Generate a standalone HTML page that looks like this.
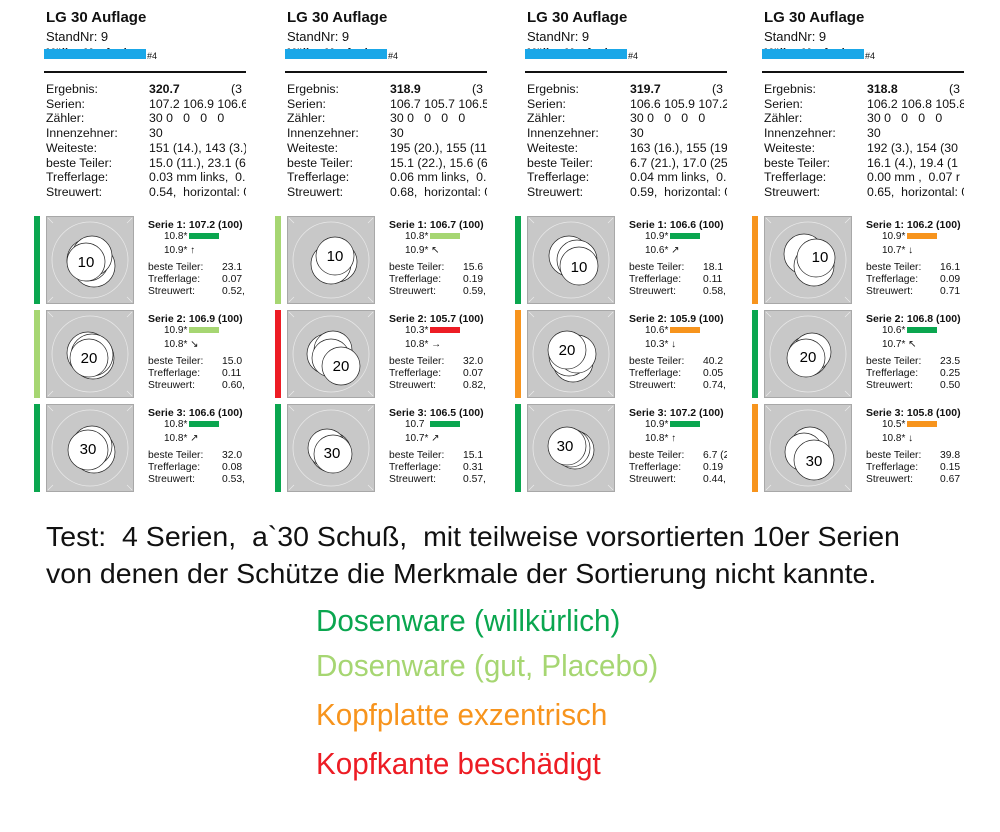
<!DOCTYPE html>
<html><head><meta charset="utf-8">
<style>
body{margin:0;width:1000px;height:832px;background:#fff;position:relative;overflow:hidden;font-family:"Liberation Sans",sans-serif;color:#111}
.p{position:absolute;top:0;width:214px;height:500px;overflow:hidden}
.a{position:absolute;white-space:nowrap}
.t{font-weight:bold;font-size:15px;left:14px;top:9px}
.s{font-size:13px;left:14px;top:29px}
.nm{left:12px;top:49px;width:102px;height:10px;background:#1aa7e8}
.nm2{left:14px;top:47px;font-size:11px;font-weight:bold;color:#222}
.h4{left:115px;top:51px;font-size:9px}
.hr{left:12px;top:71px;width:210px;height:2px;background:#111}
.st{left:14px;top:82px;font-size:12.3px;line-height:14.7px}
.sv{left:117px;top:82px;font-size:12.3px;line-height:14.7px}
.bar{left:2px;width:6px;height:88px}
.tg{left:14px;width:88px;height:88px}
.sh{left:116px;font-weight:bold;font-size:10.5px}
.sl{left:132px;font-size:10px}
.cb{left:157px;width:30px;height:6px}
.ss{left:116px;font-size:10.3px;line-height:11.8px}
.sx{left:190px;font-size:10.3px;line-height:11.8px}
.big{position:absolute;left:46px;font-size:28px;white-space:nowrap;transform:scaleX(1.018);transform-origin:left top;color:#111}
.lg{position:absolute;left:316px;font-size:31px;white-space:nowrap;transform:scaleX(0.955);transform-origin:left top}
</style></head><body>

<svg width="0" height="0" style="position:absolute"><defs>
<g id="tgt"><rect x="0.5" y="0.5" width="87" height="87" fill="#c8c8c8" stroke="#a8a8a8"/><circle cx="44" cy="44" r="38" fill="none" stroke="#e8e8e8" stroke-width="0.8"/><path d="M2 2l5 5M86 2l-5 5M2 86l5-5M86 86l-5-5" stroke="#eee" stroke-width="0.6"/></g>
</defs></svg>

<!-- Panel 1 -->
<div class="p" style="left:32px">
<div class="a t">LG 30 Auflage</div><div class="a s">StandNr: 9</div>
<div class="a nm2">Müller, Manfred</div><div class="a nm"></div><div class="a h4">#4</div><div class="a hr"></div>
<div class="a st">Ergebnis:<br>Serien:<br>Zähler:<br>Innenzehner:<br>Weiteste:<br>beste Teiler:<br>Trefferlage:<br>Streuwert:</div>
<div class="a sv"><b>320.7</b>&nbsp;&nbsp;&nbsp;&nbsp;&nbsp;&nbsp;&nbsp;&nbsp;&nbsp;&nbsp;&nbsp;&nbsp;&nbsp;&nbsp;&nbsp;(3<br>107.2 106.9 106.6<br>30 0&nbsp;&nbsp;&nbsp;0&nbsp;&nbsp;&nbsp;0&nbsp;&nbsp;&nbsp;0<br>30<br>151 (14.), 143 (3.)<br>15.0 (11.), 23.1 (6<br>0.03 mm links,&nbsp; 0.<br>0.54,&nbsp; horizontal: 0</div>

<div class="a bar" style="top:216px;background:#0aa64f"></div>
<svg class="a tg" style="top:216px" viewBox="0 0 88 88"><use href="#tgt"/><g fill="#fff" stroke="#222" stroke-width="0.7"><circle cx="48" cy="50" r="21"/><circle cx="42" cy="44" r="21"/><circle cx="46" cy="40" r="20"/><circle cx="40" cy="46" r="19"/></g><text x="40" y="51" font-size="15" text-anchor="middle" font-family="Liberation Sans">10</text></svg>
<div class="a sh" style="top:219px">Serie 1: 107.2 (100)</div>
<div class="a sl" style="top:231px">10.8*</div><div class="a cb" style="top:233px;background:#0aa64f"></div>
<div class="a sl" style="top:245px">10.9* ↑</div>
<div class="a ss" style="top:262px">beste Teiler:<br>Trefferlage:<br>Streuwert:</div><div class="a sx" style="top:262px">23.1<br>0.07<br>0.52,</div>

<div class="a bar" style="top:310px;background:#a6d672"></div>
<svg class="a tg" style="top:310px" viewBox="0 0 88 88"><use href="#tgt"/><g fill="#fff" stroke="#222" stroke-width="0.7"><circle cx="47" cy="48" r="21"/><circle cx="42" cy="43" r="21"/><circle cx="46" cy="45" r="21"/><circle cx="43" cy="48" r="19"/></g><text x="43" y="53" font-size="15" text-anchor="middle" font-family="Liberation Sans">20</text></svg>
<div class="a sh" style="top:313px">Serie 2: 106.9 (100)</div>
<div class="a sl" style="top:325px">10.9*</div><div class="a cb" style="top:327px;background:#a6d672"></div>
<div class="a sl" style="top:339px">10.8* ↘</div>
<div class="a ss" style="top:356px">beste Teiler:<br>Trefferlage:<br>Streuwert:</div><div class="a sx" style="top:356px">15.0<br>0.11<br>0.60,</div>

<div class="a bar" style="top:404px;background:#0aa64f"></div>
<svg class="a tg" style="top:404px" viewBox="0 0 88 88"><use href="#tgt"/><g fill="#fff" stroke="#222" stroke-width="0.7"><circle cx="48" cy="48" r="21"/><circle cx="46" cy="42" r="20"/><circle cx="42" cy="46" r="20"/></g><text x="42" y="50" font-size="15" text-anchor="middle" font-family="Liberation Sans">30</text></svg>
<div class="a sh" style="top:407px">Serie 3: 106.6 (100)</div>
<div class="a sl" style="top:419px">10.8*</div><div class="a cb" style="top:421px;background:#0aa64f"></div>
<div class="a sl" style="top:433px">10.8* ↗</div>
<div class="a ss" style="top:450px">beste Teiler:<br>Trefferlage:<br>Streuwert:</div><div class="a sx" style="top:450px">32.0<br>0.08<br>0.53,</div>
</div>

<!-- Panel 2 -->
<div class="p" style="left:273px">
<div class="a t">LG 30 Auflage</div><div class="a s">StandNr: 9</div>
<div class="a nm2">Müller, Manfred</div><div class="a nm"></div><div class="a h4">#4</div><div class="a hr"></div>
<div class="a st">Ergebnis:<br>Serien:<br>Zähler:<br>Innenzehner:<br>Weiteste:<br>beste Teiler:<br>Trefferlage:<br>Streuwert:</div>
<div class="a sv"><b>318.9</b>&nbsp;&nbsp;&nbsp;&nbsp;&nbsp;&nbsp;&nbsp;&nbsp;&nbsp;&nbsp;&nbsp;&nbsp;&nbsp;&nbsp;&nbsp;(3<br>106.7 105.7 106.5<br>30 0&nbsp;&nbsp;&nbsp;0&nbsp;&nbsp;&nbsp;0&nbsp;&nbsp;&nbsp;0<br>30<br>195 (20.), 155 (11<br>15.1 (22.), 15.6 (6<br>0.06 mm links,&nbsp; 0.<br>0.68,&nbsp; horizontal: 0</div>

<div class="a bar" style="top:216px;background:#a6d672"></div>
<svg class="a tg" style="top:216px" viewBox="0 0 88 88"><use href="#tgt"/><g fill="#fff" stroke="#222" stroke-width="0.7"><circle cx="50" cy="46" r="20"/><circle cx="44" cy="48" r="20"/><circle cx="48" cy="40" r="19"/></g><text x="48" y="45" font-size="15" text-anchor="middle" font-family="Liberation Sans">10</text></svg>
<div class="a sh" style="top:219px">Serie 1: 106.7 (100)</div>
<div class="a sl" style="top:231px">10.8*</div><div class="a cb" style="top:233px;background:#a6d672"></div>
<div class="a sl" style="top:245px">10.9* ↖</div>
<div class="a ss" style="top:262px">beste Teiler:<br>Trefferlage:<br>Streuwert:</div><div class="a sx" style="top:262px">15.6<br>0.19<br>0.59,</div>

<div class="a bar" style="top:310px;background:#ed1c24"></div>
<svg class="a tg" style="top:310px" viewBox="0 0 88 88"><use href="#tgt"/><g fill="#fff" stroke="#222" stroke-width="0.7"><circle cx="40" cy="44" r="20"/><circle cx="46" cy="40" r="19"/><circle cx="44" cy="48" r="19"/><circle cx="54" cy="56" r="19"/></g><text x="54" y="61" font-size="15" text-anchor="middle" font-family="Liberation Sans">20</text></svg>
<div class="a sh" style="top:313px">Serie 2: 105.7 (100)</div>
<div class="a sl" style="top:325px">10.3*</div><div class="a cb" style="top:327px;background:#ed1c24"></div>
<div class="a sl" style="top:339px">10.8* →</div>
<div class="a ss" style="top:356px">beste Teiler:<br>Trefferlage:<br>Streuwert:</div><div class="a sx" style="top:356px">32.0<br>0.07<br>0.82,</div>

<div class="a bar" style="top:404px;background:#0aa64f"></div>
<svg class="a tg" style="top:404px" viewBox="0 0 88 88"><use href="#tgt"/><g fill="#fff" stroke="#222" stroke-width="0.7"><circle cx="44" cy="48" r="20"/><circle cx="40" cy="44" r="19"/><circle cx="46" cy="50" r="19"/></g><text x="45" y="54" font-size="15" text-anchor="middle" font-family="Liberation Sans">30</text></svg>
<div class="a sh" style="top:407px">Serie 3: 106.5 (100)</div>
<div class="a sl" style="top:419px">10.7</div><div class="a cb" style="top:421px;background:#0aa64f"></div>
<div class="a sl" style="top:433px">10.7* ↗</div>
<div class="a ss" style="top:450px">beste Teiler:<br>Trefferlage:<br>Streuwert:</div><div class="a sx" style="top:450px">15.1<br>0.31<br>0.57,</div>
</div>

<!-- Panel 3 -->
<div class="p" style="left:513px">
<div class="a t">LG 30 Auflage</div><div class="a s">StandNr: 9</div>
<div class="a nm2">Müller, Manfred</div><div class="a nm"></div><div class="a h4">#4</div><div class="a hr"></div>
<div class="a st">Ergebnis:<br>Serien:<br>Zähler:<br>Innenzehner:<br>Weiteste:<br>beste Teiler:<br>Trefferlage:<br>Streuwert:</div>
<div class="a sv"><b>319.7</b>&nbsp;&nbsp;&nbsp;&nbsp;&nbsp;&nbsp;&nbsp;&nbsp;&nbsp;&nbsp;&nbsp;&nbsp;&nbsp;&nbsp;&nbsp;(3<br>106.6 105.9 107.2<br>30 0&nbsp;&nbsp;&nbsp;0&nbsp;&nbsp;&nbsp;0&nbsp;&nbsp;&nbsp;0<br>30<br>163 (16.), 155 (19<br>6.7 (21.), 17.0 (25<br>0.04 mm links,&nbsp; 0.<br>0.59,&nbsp; horizontal: 0</div>

<div class="a bar" style="top:216px;background:#0aa64f"></div>
<svg class="a tg" style="top:216px" viewBox="0 0 88 88"><use href="#tgt"/><g fill="#fff" stroke="#222" stroke-width="0.7"><circle cx="42" cy="40" r="20"/><circle cx="50" cy="44" r="20"/><circle cx="52" cy="50" r="19"/></g><text x="52" y="56" font-size="15" text-anchor="middle" font-family="Liberation Sans">10</text></svg>
<div class="a sh" style="top:219px">Serie 1: 106.6 (100)</div>
<div class="a sl" style="top:231px">10.9*</div><div class="a cb" style="top:233px;background:#0aa64f"></div>
<div class="a sl" style="top:245px">10.6* ↗</div>
<div class="a ss" style="top:262px">beste Teiler:<br>Trefferlage:<br>Streuwert:</div><div class="a sx" style="top:262px">18.1<br>0.11<br>0.58,</div>

<div class="a bar" style="top:310px;background:#f7941d"></div>
<svg class="a tg" style="top:310px" viewBox="0 0 88 88"><use href="#tgt"/><g fill="#fff" stroke="#222" stroke-width="0.7"><circle cx="46" cy="52" r="20"/><circle cx="42" cy="46" r="20"/><circle cx="50" cy="44" r="19"/><circle cx="40" cy="40" r="19"/></g><text x="40" y="45" font-size="15" text-anchor="middle" font-family="Liberation Sans">20</text></svg>
<div class="a sh" style="top:313px">Serie 2: 105.9 (100)</div>
<div class="a sl" style="top:325px">10.6*</div><div class="a cb" style="top:327px;background:#f7941d"></div>
<div class="a sl" style="top:339px">10.3* ↓</div>
<div class="a ss" style="top:356px">beste Teiler:<br>Trefferlage:<br>Streuwert:</div><div class="a sx" style="top:356px">40.2<br>0.05<br>0.74,</div>

<div class="a bar" style="top:404px;background:#0aa64f"></div>
<svg class="a tg" style="top:404px" viewBox="0 0 88 88"><use href="#tgt"/><g fill="#fff" stroke="#222" stroke-width="0.7"><circle cx="48" cy="46" r="19"/><circle cx="44" cy="44" r="19"/><circle cx="40" cy="42" r="19"/></g><text x="38" y="47" font-size="15" text-anchor="middle" font-family="Liberation Sans">30</text></svg>
<div class="a sh" style="top:407px">Serie 3: 107.2 (100)</div>
<div class="a sl" style="top:419px">10.9*</div><div class="a cb" style="top:421px;background:#0aa64f"></div>
<div class="a sl" style="top:433px">10.8* ↑</div>
<div class="a ss" style="top:450px">beste Teiler:<br>Trefferlage:<br>Streuwert:</div><div class="a sx" style="top:450px">6.7 (2<br>0.19<br>0.44,</div>
</div>

<!-- Panel 4 -->
<div class="p" style="left:750px">
<div class="a t">LG 30 Auflage</div><div class="a s">StandNr: 9</div>
<div class="a nm2">Müller, Manfred</div><div class="a nm"></div><div class="a h4">#4</div><div class="a hr"></div>
<div class="a st">Ergebnis:<br>Serien:<br>Zähler:<br>Innenzehner:<br>Weiteste:<br>beste Teiler:<br>Trefferlage:<br>Streuwert:</div>
<div class="a sv"><b>318.8</b>&nbsp;&nbsp;&nbsp;&nbsp;&nbsp;&nbsp;&nbsp;&nbsp;&nbsp;&nbsp;&nbsp;&nbsp;&nbsp;&nbsp;&nbsp;(3<br>106.2 106.8 105.8<br>30 0&nbsp;&nbsp;&nbsp;0&nbsp;&nbsp;&nbsp;0&nbsp;&nbsp;&nbsp;0<br>30<br>192 (3.), 154 (30<br>16.1 (4.), 19.4 (1<br>0.00 mm ,&nbsp; 0.07 r<br>0.65,&nbsp; horizontal: 0</div>

<div class="a bar" style="top:216px;background:#f7941d"></div>
<svg class="a tg" style="top:216px" viewBox="0 0 88 88"><use href="#tgt"/><g fill="#fff" stroke="#222" stroke-width="0.7"><circle cx="40" cy="38" r="20"/><circle cx="50" cy="50" r="20"/><circle cx="52" cy="42" r="19"/></g><text x="56" y="46" font-size="15" text-anchor="middle" font-family="Liberation Sans">10</text></svg>
<div class="a sh" style="top:219px">Serie 1: 106.2 (100)</div>
<div class="a sl" style="top:231px">10.9*</div><div class="a cb" style="top:233px;background:#f7941d"></div>
<div class="a sl" style="top:245px">10.7* ↓</div>
<div class="a ss" style="top:262px">beste Teiler:<br>Trefferlage:<br>Streuwert:</div><div class="a sx" style="top:262px">16.1<br>0.09<br>0.71</div>

<div class="a bar" style="top:310px;background:#0aa64f"></div>
<svg class="a tg" style="top:310px" viewBox="0 0 88 88"><use href="#tgt"/><g fill="#fff" stroke="#222" stroke-width="0.7"><circle cx="44" cy="46" r="20"/><circle cx="48" cy="42" r="19"/><circle cx="42" cy="48" r="19"/></g><text x="44" y="52" font-size="15" text-anchor="middle" font-family="Liberation Sans">20</text></svg>
<div class="a sh" style="top:313px">Serie 2: 106.8 (100)</div>
<div class="a sl" style="top:325px">10.6*</div><div class="a cb" style="top:327px;background:#0aa64f"></div>
<div class="a sl" style="top:339px">10.7* ↖</div>
<div class="a ss" style="top:356px">beste Teiler:<br>Trefferlage:<br>Streuwert:</div><div class="a sx" style="top:356px">23.5<br>0.25<br>0.50</div>

<div class="a bar" style="top:404px;background:#f7941d"></div>
<svg class="a tg" style="top:404px" viewBox="0 0 88 88"><use href="#tgt"/><g fill="#fff" stroke="#222" stroke-width="0.7"><circle cx="46" cy="42" r="19"/><circle cx="40" cy="48" r="19"/><circle cx="50" cy="56" r="20"/></g><text x="50" y="62" font-size="15" text-anchor="middle" font-family="Liberation Sans">30</text></svg>
<div class="a sh" style="top:407px">Serie 3: 105.8 (100)</div>
<div class="a sl" style="top:419px">10.5*</div><div class="a cb" style="top:421px;background:#f7941d"></div>
<div class="a sl" style="top:433px">10.8* ↓</div>
<div class="a ss" style="top:450px">beste Teiler:<br>Trefferlage:<br>Streuwert:</div><div class="a sx" style="top:450px">39.8<br>0.15<br>0.67</div>
</div>

<div class="big" style="top:521px">Test:&nbsp; 4 Serien,&nbsp; a`30 Schuß,&nbsp; mit teilweise vorsortierten 10er Serien</div>
<div class="big" style="top:558px">von denen der Schütze die Merkmale der Sortierung nicht kannte.</div>
<div class="lg" style="top:603px;color:#0aa64f">Dosenware (willkürlich)</div>
<div class="lg" style="top:648px;color:#a6d672">Dosenware (gut, Placebo)</div>
<div class="lg" style="top:697px;color:#f7941d">Kopfplatte exzentrisch</div>
<div class="lg" style="top:746px;color:#ed1c24">Kopfkante beschädigt</div>
</body></html>
